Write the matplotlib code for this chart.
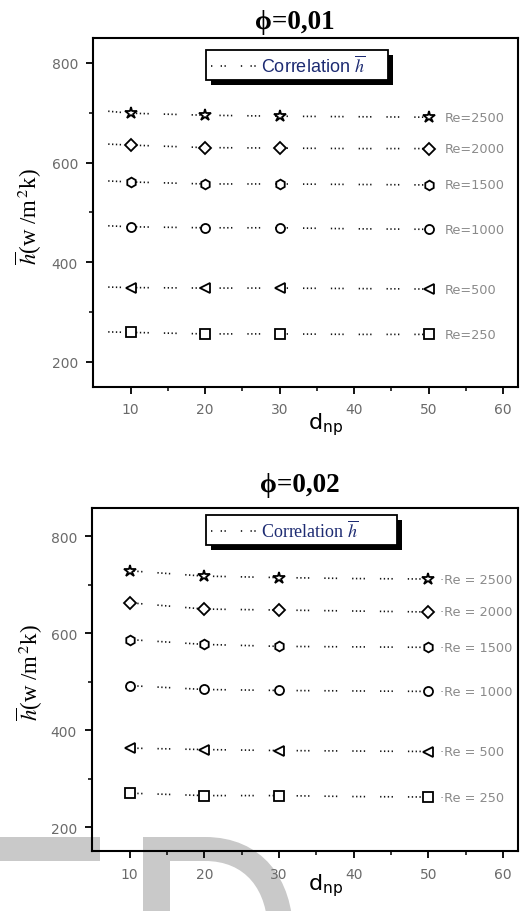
import matplotlib
matplotlib.use("Agg")
import matplotlib.pyplot as plt
from matplotlib.patches import Rectangle, PathPatch
from matplotlib.path import Path
from matplotlib.transforms import IdentityTransform
from matplotlib.lines import Line2D

# ---------------- data ----------------
d_np = [10, 20, 30, 50]
re_labels = ["Re=2500", "Re=2000", "Re=1500", "Re=1000", "Re=500", "Re=250"]
markers = ["*", "D", "h", "o", "<", "s"]
msizes = [9, 6, 7, 6.5, 7, 6.5]

# phi = 0.01 : simulated h (markers)
h_phi1 = {
    "Re=2500": [699, 695, 693, 691],
    "Re=2000": [635, 629, 629, 628],
    "Re=1500": [561, 557, 557, 555],
    "Re=1000": [471, 469, 469, 466],
    "Re=500":  [349, 348, 348, 346],
    "Re=250":  [259, 256, 256, 255],
}
# phi = 0.01 : correlation (dotted)
corr_d_phi1 = [7, 10, 20, 30, 40, 50]
corr_phi1 = {
    "Re=2500": [703, 699, 695, 693, 692, 691],
    "Re=2000": [637, 635, 630, 629, 628, 628],
    "Re=1500": [563, 561, 557, 557, 556, 555],
    "Re=1000": [473, 471, 469, 469, 467, 466],
    "Re=500":  [350, 349, 348, 348, 347, 346],
    "Re=250":  [260, 259, 256, 256, 255, 255],
}

# phi = 0.02 : simulated h (markers)
h_phi2 = {
    "Re=2500": [729, 718, 715, 712],
    "Re=2000": [663, 650, 648, 644],
    "Re=1500": [587, 577, 573, 571],
    "Re=1000": [492, 484, 482, 480],
    "Re=500":  [363, 360, 358, 356],
    "Re=250":  [270, 265, 265, 262],
}
corr_d_phi2 = [10, 20, 30, 40, 50]
corr_phi2 = {
    "Re=2500": [729, 718, 715, 713, 712],
    "Re=2000": [663, 650, 648, 646, 644],
    "Re=1500": [587, 577, 573, 572, 571],
    "Re=1000": [492, 484, 482, 481, 480],
    "Re=500":  [363, 360, 358, 357, 356],
    "Re=250":  [270, 265, 265, 263, 262],
}
labels_phi2 = ["·Re = 2500", "·Re = 2000", "·Re = 1500", "·Re = 1000", "·Re = 500", "·Re = 250"]

xticks = [10, 20, 30, 40, 50, 60]
yticks = [200, 400, 600, 800]

# ---------------- figure ----------------
W, H = 521, 912
fig = plt.figure(figsize=(W / 100, H / 100), dpi=100)
plt.rcParams["mathtext.fontset"] = "stix"

# watermark shapes (pixel coordinates, y measured from top)
def P(x, y):
    return (x, H - y)

rect = Rectangle(P(0, 862), 100, 24, transform=IdentityTransform(),
                 facecolor="#c9c9c9", edgecolor="none", zorder=-1)
fig.add_artist(rect)
verts = [P(143, 838), P(205, 838), P(262, 838), P(293, 880), P(293, 935),
         P(293, 960), P(143, 960), P(143, 838),
         P(170, 862), P(170, 960), P(268, 960), P(268, 935), P(268, 890),
         P(245, 862), P(205, 862), P(170, 862)]
codes = [Path.MOVETO, Path.LINETO, Path.CURVE4, Path.CURVE4, Path.CURVE4,
         Path.LINETO, Path.LINETO, Path.CLOSEPOLY,
         Path.MOVETO, Path.LINETO, Path.LINETO, Path.LINETO, Path.CURVE4,
         Path.CURVE4, Path.CURVE4, Path.CLOSEPOLY]
fig.add_artist(PathPatch(Path(verts, codes), transform=IdentityTransform(),
                         facecolor="#c9c9c9", edgecolor="none", zorder=-1))

ax1 = fig.add_axes([93.3 / W, 1 - 387.7 / H, 424.7 / W, 348.7 / H])
ax2 = fig.add_axes([92.3 / W, 1 - 852.3 / H, 425.7 / W, 343.0 / H])

dot_style = (0, (0.8, 1.5, 0.8, 1.5, 0.8, 1.5, 0.8, 9.0))


def style_axes(ax, ylim):
    ax.set_facecolor("none")
    ax.set_xlim(5, 62)
    ax.set_ylim(*ylim)
    ax.set_xticks(xticks)
    ax.set_yticks(yticks)
    ax.set_xticks([15, 25, 35, 45, 55], minor=True)
    ax.set_yticks([300, 500, 700], minor=True)
    for s in ax.spines.values():
        s.set_linewidth(1.5)
        s.set_color("black")
    ax.tick_params(which="major", direction="out", length=5, width=1.3,
                   labelsize=10, labelcolor="#6a6a6a", pad=6)
    ax.tick_params(which="minor", direction="out", length=3, width=1.1)
    ax.tick_params(axis="x", which="both", top=False)
    ax.tick_params(axis="y", which="both", right=False)
    for t in ax.get_xticklabels() + ax.get_yticklabels():
        t.set_family("DejaVu Sans")


legend_boxes = {}


def draw_panel(ax, h, corr_d, corr, labels, label_x, legend_family, title,
               title_xy, ylabel_xy, xlabel_xy):
    for i, key in enumerate(re_labels):
        ax.plot(corr_d, corr[key], linestyle=dot_style, color="#111111",
                linewidth=1.2, zorder=2)
        ax.plot(d_np, h[key], linestyle="none", marker=markers[i],
                markersize=msizes[i], markerfacecolor="white",
                markeredgecolor="black", markeredgewidth=1.3, zorder=3)
        ax.text(label_x, h[key][-1], labels[i], fontsize=9.3,
                color="#8a8a8a", va="center", ha="left",
                family="DejaVu Sans")
    handle = Line2D([], [], linestyle=(0, (0.8, 5.0, 0.8, 1.5, 0.8, 9.0)),
                    color="#111111", linewidth=1.2)
    leg = ax.legend([handle], [r"Correlation $\overline{h}$"],
                    loc="upper left", bbox_to_anchor=legend_boxes[id(ax)],
                    mode="expand", frameon=True, fancybox=False,
                    handlelength=2.6, handletextpad=0.2, borderpad=0.25,
                    borderaxespad=0.0,
                    prop={"family": legend_family, "size": 13})
    leg.get_frame().set_edgecolor("black")
    leg.get_frame().set_linewidth(1.3)
    leg.get_frame().set_facecolor("white")
    leg.get_frame().set_alpha(1)
    for t in leg.get_texts():
        t.set_color("#1d2b72")
    leg.set_zorder(6)
    ax.text(title_xy[0], title_xy[1], title, transform=ax.transAxes,
            ha="center", va="baseline", fontsize=19.5, fontweight="bold",
            family=["Liberation Serif", "DejaVu Serif"])
    ax.text(ylabel_xy[0], ylabel_xy[1], r"$\overline{h}$(w /m$^{\,2}$k)",
            transform=ax.transAxes, rotation=90, ha="center", va="center",
            fontsize=16.5, family="Liberation Serif")
    ax.text(xlabel_xy[0], xlabel_xy[1], r"d$_{\mathregular{np}}$",
            transform=ax.transAxes, ha="left", va="baseline", fontsize=16,
            family="DejaVu Sans", math_fontfamily="dejavusans")
    return leg


# legend boxes in axes fraction (x0, y0, w, h) measured from reference
legend_boxes[id(ax1)] = ((206 - 93.3) / 424.7, 1 - (79 - 39) / 348.7,
                         (388 - 206) / 424.7, (79 - 51) / 348.7)
legend_boxes[id(ax2)] = ((206 - 92.3) / 425.7, 1 - (546 - 509.3) / 343.0,
                         (397 - 206) / 425.7, (546 - 516) / 343.0)

style_axes(ax1, (150, 850))
style_axes(ax2, (150, 858))

leg1 = draw_panel(ax1, h_phi1, corr_d_phi1, corr_phi1, re_labels, 52.2,
                  "Liberation Sans", "ϕ=0,01", (0.475, 1.029),
                  (-0.151, 0.49), (0.505, -0.121))
leg2 = draw_panel(ax2, h_phi2, corr_d_phi2, corr_phi2, labels_phi2, 51.6,
                  "Liberation Serif", "ϕ=0,02", (0.488, 1.051),
                  (-0.146, 0.523), (0.506, -0.11))

# drop shadows for legends
fig.canvas.draw()
for ax, leg in ((ax1, leg1), (ax2, leg2)):
    bb = leg.get_frame().get_window_extent()
    sh = Rectangle((bb.x0 + 5, bb.y0 - 5), bb.width, bb.height,
                   transform=IdentityTransform(), facecolor="black",
                   edgecolor="none", zorder=5.5, clip_on=False)
    ax.add_artist(sh)

fig.savefig("out.png", dpi=100)
